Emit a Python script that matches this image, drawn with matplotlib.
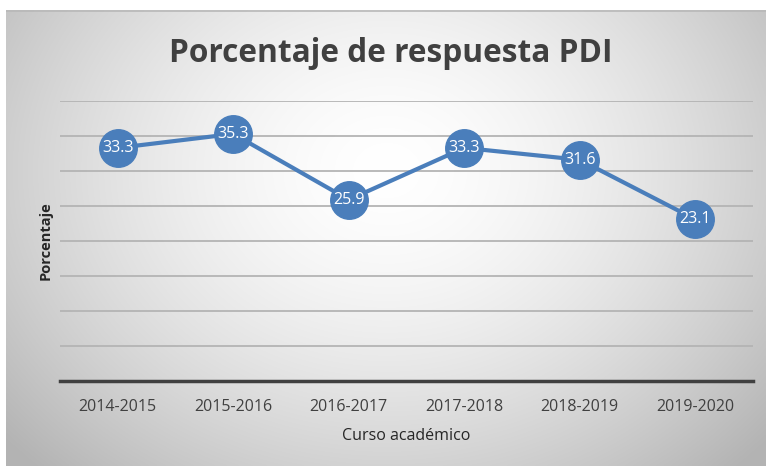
import numpy as np
import matplotlib
matplotlib.use("Agg")
import matplotlib.pyplot as plt

categories = ["2014-2015", "2015-2016", "2016-2017", "2017-2018", "2018-2019", "2019-2020"]
values = [33.3, 35.3, 25.9, 33.3, 31.6, 23.1]
yticks = [0, 5, 10, 15, 20, 25, 30, 35, 40]

W, H = 766, 466
fig = plt.figure(figsize=(W / 100, H / 100), dpi=100)
fig.patch.set_facecolor("white")

# radial gradient background
bg = fig.add_axes([6 / W, 0, 760 / W, 456 / H], zorder=-10)
ny, nx = 228, 380
yy, xx = np.mgrid[0:ny, 0:nx]
cx, cy = nx * 0.5, ny * 0.35
r = np.sqrt(((xx - cx) / (nx * 0.55)) ** 2 + ((yy - cy) / (ny * 0.75)) ** 2)
v = 1.0 - 0.22 * np.clip(r, 0, 1.2) ** 1.6
img = np.dstack([v, v, v])
bg.imshow(img, aspect="auto", extent=[0, 1, 0, 1], origin="upper", interpolation="bilinear")
bg.plot([0, 1], [0.998, 0.998], color="#b8b8b8", lw=1.2)
bg.set_xlim(0, 1)
bg.set_ylim(0, 1)
bg.axis("off")

ax = fig.add_axes([60 / W, 1 - 381 / H, 693 / W, 280 / H])
ax.patch.set_alpha(0)
x = np.arange(len(categories))
ax.set_xlim(-0.5, len(categories) - 0.5)
ax.set_ylim(0, 40)
for t in yticks[1:]:
    ax.axhline(t, color="#b4b4b4", lw=1.3, zorder=1)
ax.plot(x, values, color="#4a7ebb", lw=3, marker="o", markersize=27,
        markerfacecolor="#4a7ebb", markeredgecolor="#4a7ebb", zorder=3)
for xi, v_ in zip(x, values):
    ax.text(xi, v_, f"{v_:.1f}", ha="center", va="center", color="white",
            fontsize=11.5, family="Open Sans", zorder=4)

for s in ["top", "right", "left"]:
    ax.spines[s].set_visible(False)
ax.spines["bottom"].set_color("#404040")
ax.spines["bottom"].set_linewidth(2.5)
ax.set_yticks([])
ax.set_xticks(x)
ax.set_xticklabels(categories, fontsize=11.5, color="#404040", family="Open Sans")
ax.tick_params(axis="x", length=0, pad=13)
ax.set_xlabel("Curso académico", fontsize=11.5, color="#262626", family="Open Sans", labelpad=9)

fig.text(46 / W, 1 - 241 / H, "Porcentaje", rotation=90, ha="center", va="center",
         fontsize=10.5, fontweight="bold", color="#262626", family="Open Sans")
fig.text(391 / W, 1 - 54 / H, "Porcentaje de respuesta PDI", ha="center", va="center",
         fontsize=22.8, fontweight="bold", color="#404040", family="Open Sans")

fig.savefig("out.png", dpi=100)
